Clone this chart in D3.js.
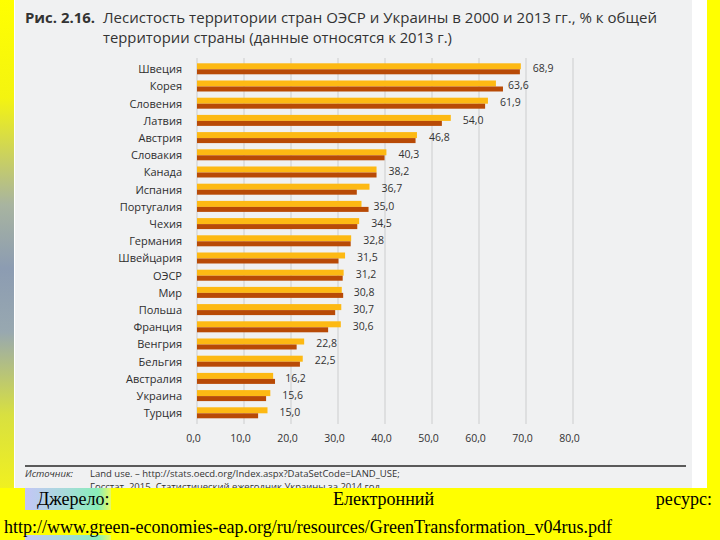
<!DOCTYPE html>
<html><head><meta charset="utf-8">
<script src="https://cdn.jsdelivr.net/npm/d3@7"></script>
<style>body{margin:0;background:#ffff00;} svg{display:block}</style>
</head><body><svg id="c" width="720" height="540"></svg>
<script>
const categories = ["Швеция","Корея","Словения","Латвия","Австрия","Словакия","Канада","Испания","Португалия","Чехия","Германия","Швейцария","ОЭСР","Мир","Польша","Франция","Венгрия","Бельгия","Австралия","Украина","Турция"];
const values2013 = [68.9,63.6,61.9,54.0,46.8,40.3,38.2,36.7,35.0,34.5,32.8,31.5,31.2,30.8,30.7,30.6,22.8,22.5,16.2,15.6,15.0];
const values2000 = [68.7,65.1,61.3,52.1,46.5,39.9,38.2,34.0,36.5,34.1,32.7,30.1,31.0,31.1,29.4,27.9,21.2,21.9,16.6,14.7,13.0];
const xTicks = [0,10,20,30,40,50,60,70,80];
const titleBold = "Рис. 2.16.";
const titleLines = ["Лесистость территории стран ОЭСР и Украины в 2000 и 2013 гг., % к общей","территории страны (данные относятся к 2013 г.)"];
const sourceLabel = "Источник:";
const sourceLines = ["Land use. – http://stats.oecd.org/Index.aspx?DataSetCode=LAND_USE;","Госстат. 2015. Статистический ежегодник Украины за 2014 год"];
const footerWords = ["Джерело:","Електронний","ресурс:"];
const footerUrl = "http://www.green-economies-eap.org/ru/resources/GreenTransformation_v04rus.pdf";

const svg = d3.select("#c");
const defs = svg.append("defs");
const fmt = d => d3.format(".1f")(d).replace(".", ",");

// left gradient strip
const lg = defs.append("linearGradient").attr("id","lstrip").attr("x1",0).attr("y1",0).attr("x2",0).attr("y2",1);
[[0,"#ffff00"],[0.2,"#f4f410"],[0.42,"#a8b4a0"],[0.55,"#8c9cb2"],[0.68,"#98a8b0"],[0.85,"#d8e040"],[1,"#f0f020"]].forEach(s=>lg.append("stop").attr("offset",s[0]).attr("stop-color",s[1]));
const hg = defs.append("linearGradient").attr("id","hl").attr("x1",0).attr("y1",0).attr("x2",1).attr("y2",0);
[[0,"#c4c6f6"],[0.5,"#a4dcd8"],[0.85,"#88eeb8"],[1,"#e8fa60"]].forEach(s=>hg.append("stop").attr("offset",s[0]).attr("stop-color",s[1]));
defs.append("clipPath").attr("id","pclip").append("rect").attr("x",0).attr("y",0).attr("width",720).attr("height",488);

// panel
svg.append("rect").attr("x",0).attr("y",0).attr("width",16).attr("height",488).attr("fill","url(#lstrip)");
svg.append("rect").attr("x",14).attr("y",0).attr("width",693).attr("height",488).attr("fill","#ffffff");
svg.append("rect").attr("x",15).attr("y",0).attr("width",677).attr("height",488).attr("fill","#f0f1f2");

// title
svg.append("text").attr("x",25).attr("y",23).attr("font-family","Open Sans, sans-serif").attr("font-weight","bold")
  .attr("font-size",14).attr("fill","#333").attr("textLength",70).attr("lengthAdjust","spacingAndGlyphs").text(titleBold);
const tl = [554,349];
titleLines.forEach((t,i)=>svg.append("text").attr("x",103).attr("y",23+20*i).attr("font-family","Open Sans, sans-serif")
  .attr("font-size",14).attr("fill","#333").attr("textLength",tl[i]).attr("lengthAdjust","spacingAndGlyphs").text(t));

// scales
const x = d3.scaleLinear().domain([0,80]).range([197,573]);
const y = d3.scaleBand().domain(categories).range([60.2,421.4]).paddingInner(0.36).paddingOuter(0.18);

// grid
svg.append("g").selectAll("line").data(xTicks).join("line")
  .attr("x1",d=>x(d)).attr("x2",d=>x(d)).attr("y1",58).attr("y2",424)
  .attr("stroke","#d8d9da").attr("stroke-width",1.5);

// bars
const rows = categories.map((c,i)=>({c, v13:values2013[i], v00:values2000[i]}));
const g = svg.append("g");
g.selectAll("rect.y").data(rows).join("rect").attr("class","y")
  .attr("x",x(0)).attr("y",d=>y(d.c)).attr("width",d=>x(d.v13)-x(0)).attr("height",6).attr("fill","#fdb913");
g.selectAll("rect.b").data(rows).join("rect").attr("class","b")
  .attr("x",x(0)).attr("y",d=>y(d.c)+6).attr("width",d=>x(d.v00)-x(0)).attr("height",5).attr("fill","#b84a06");

// value labels
g.selectAll("text.v").data(rows).join("text").attr("class","v")
  .attr("x",d=>x(d.v13)+12).attr("y",d=>y(d.c)+5).attr("dy","0.35em")
  .attr("font-family","Open Sans, sans-serif").attr("font-size",10.5).attr("fill","#333").text(d=>fmt(d.v13));

// category axis
const ya = svg.append("g").attr("transform","translate(197,0)")
  .call(d3.axisLeft(y).tickSize(0).tickPadding(15));
ya.select(".domain").remove();
ya.selectAll("text").attr("font-family","Open Sans, sans-serif").attr("font-size",11).attr("fill","#2e2e2e").attr("dy","0.4em");

// x axis labels
const xa = svg.append("g").attr("transform","translate(0,432)")
  .call(d3.axisBottom(x).tickValues(xTicks).tickFormat(fmt).tickSize(0));
xa.select(".domain").remove();
xa.selectAll("text").attr("font-family","Open Sans, sans-serif").attr("font-size",10.5).attr("fill","#333").attr("dx",-4);

// source
svg.append("line").attr("x1",25).attr("x2",686).attr("y1",466).attr("y2",466).attr("stroke","#5a5a5a").attr("stroke-width",2);
svg.append("text").attr("x",25).attr("y",477).attr("font-family","Open Sans, sans-serif").attr("font-style","italic")
  .attr("font-size",9.5).attr("fill","#333").text(sourceLabel);
const sg = svg.append("g").attr("clip-path","url(#pclip)");
sg.selectAll("text").data(sourceLines).join("text").attr("x",90).attr("y",(d,i)=>477+13*i)
  .attr("font-family","Open Sans, sans-serif").attr("font-size",9.5).attr("fill","#333").text(d=>d);

// footer
svg.append("rect").attr("x",25).attr("y",488).attr("width",86).attr("height",22).attr("fill","url(#hl)");
svg.append("rect").attr("x",25).attr("y",535).attr("width",86).attr("height",5).attr("fill","url(#hl)");
const fx = [["start",37],["start",333],["end",712]];
footerWords.forEach((w,i)=>svg.append("text").attr("x",fx[i][1]).attr("y",505).attr("text-anchor",fx[i][0])
  .attr("font-family","Liberation Serif, Times New Roman, serif").attr("font-size",18).attr("fill","#000").text(w));
svg.append("text").attr("x",4).attr("y",533).attr("font-family","Liberation Serif, Times New Roman, serif")
  .attr("font-size",18).attr("fill","#000").attr("textLength",608).attr("lengthAdjust","spacingAndGlyphs").text(footerUrl);
</script></body></html>
